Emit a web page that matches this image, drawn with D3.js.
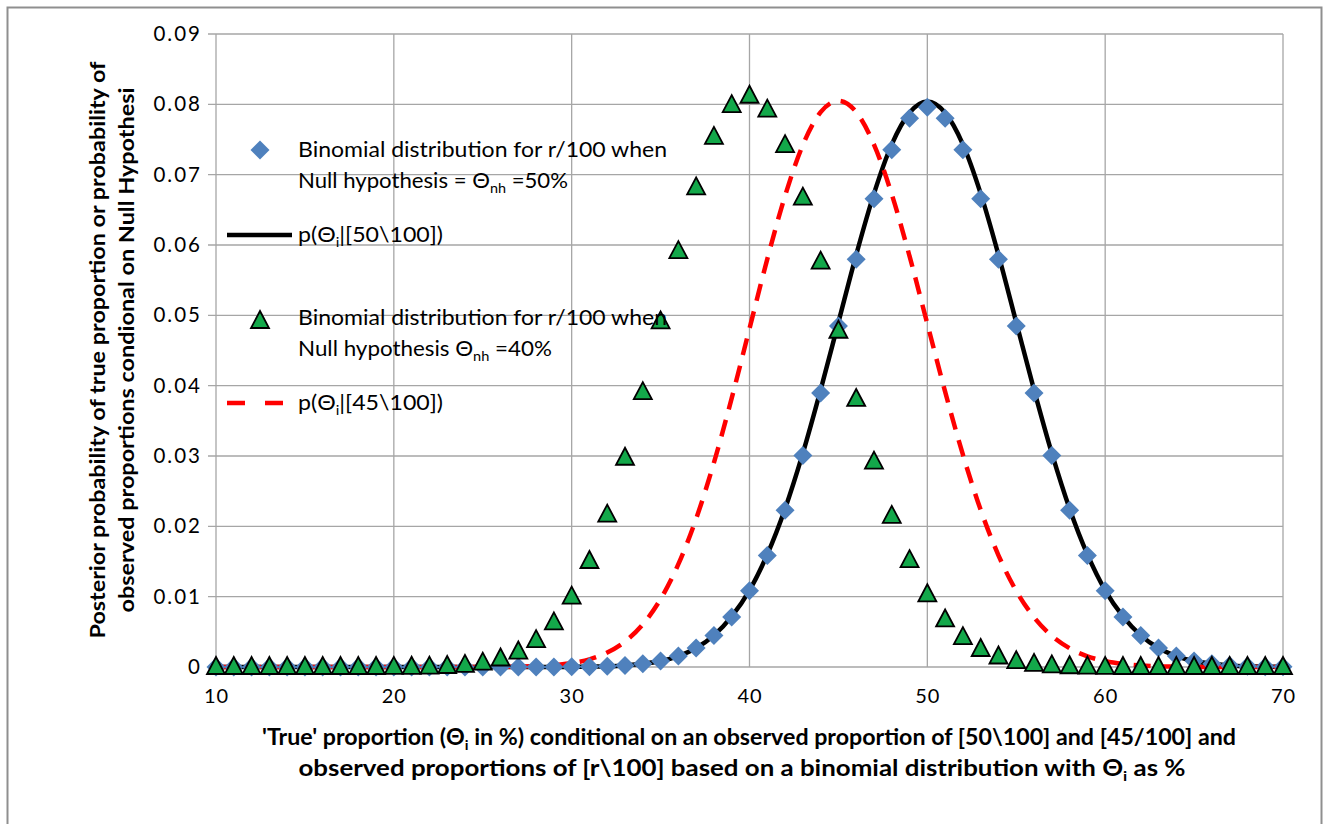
<!DOCTYPE html>
<html>
<head>
<meta charset="utf-8">
<script src="https://cdn.jsdelivr.net/npm/d3@7"></script>
<style>
  html, body { margin: 0; padding: 0; background: #fff; }
  svg { display: block; }
  text { font-family: Lato, "Open Sans", sans-serif; fill: #000; }
</style>
</head>
<body>
<svg id="chart" width="1327" height="824"></svg>
<script>
// ---------- DATA ----------
const theta = [10,11,12,13,14,15,16,17,18,19,20,21,22,23,24,25,26,27,28,29,30,31,32,33,34,35,36,37,38,39,40,
  41,42,43,44,45,46,47,48,49,50,51,52,53,54,55,56,57,58,59,60,61,62,63,64,65,66,67,68,69,70];

// Binomial distribution for r/100, null hypothesis 50% (blue diamonds)
const binom50 = [0,0,0,0,0,0,0,0,0,0,0,0,0,0,0,0,0,0,0,0,
  0.00002,0.00005,0.00011,0.00023,0.00046,0.00086,0.00156,0.00270,0.00447,0.00711,0.01084,
  0.01587,0.02229,0.03007,0.03895,0.04847,0.05796,0.06659,0.07353,0.07803,0.07959,
  0.07803,0.07353,0.06659,0.05796,0.04847,0.03895,0.03007,0.02229,0.01587,0.01084,
  0.00711,0.00447,0.00270,0.00156,0.00086,0.00046,0.00023,0.00011,0.00005,0.00002];

// p(theta | [50\100]) (black solid line)
const post50 = [0,0,0,0,0,0,0,0,0,0,0,0,0,0,0,0,0,0,0,0,
  0.00002,0.00005,0.00010,0.00022,0.00045,0.00085,0.00156,0.00270,0.00450,0.00720,0.01090,
  0.01600,0.02250,0.03040,0.03940,0.04900,0.05860,0.06730,0.07430,0.07880,0.08040,
  0.07880,0.07430,0.06730,0.05860,0.04900,0.03940,0.03040,0.02250,0.01600,0.01090,
  0.00720,0.00450,0.00270,0.00156,0.00085,0.00045,0.00022,0.00010,0.00005,0.00002];

// Binomial distribution for r/100, null hypothesis 40% (green triangles)
const binom40 = [0,0,0,0,0,0,0,0,0,0,
  0.00001,0.00003,0.00006,0.00014,0.00031,0.00063,0.00121,0.00220,0.00383,0.00634,0.01001,
  0.01507,0.02166,0.02975,0.03908,0.04913,0.05914,0.06820,0.07538,0.07989,0.08122,
  0.07924,0.07421,0.06673,0.05763,0.04781,0.03811,0.02919,0.02149,0.01520,0.01034,
  0.00676,0.00424,0.00256,0.00149,0.00083,0.00044,0.00023,0.00011,0.00005,0.00002,
  0,0,0,0,0,0,0,0,0,0];

// p(theta | [45\100]) (red dashed line)
const post45 = [0,0,0,0,0,0,0,0,0,0,0,0,0,0,0,
  0.00001,0.00002,0.00006,0.00013,0.00027,0.00055,0.00109,0.00205,0.00362,0.00606,0.00965,
  0.01462,0.02109,0.02905,0.03823,0.04812,0.05800,0.06700,0.07421,0.07889,0.08050,
  0.07890,0.07428,0.06720,0.05841,0.04879,0.03915,0.03018,0.02234,0.01588,0.01082,
  0.00707,0.00443,0.00266,0.00152,0.00083,0.00044,0.00022,0.00010,0.00005,0.00002,
  0,0,0,0,0];

const xTicks = [10,20,30,40,50,60,70];
const yTicks = [0,0.01,0.02,0.03,0.04,0.05,0.06,0.07,0.08,0.09];

// ---------- CHART ----------
const svg = d3.select("#chart");
const x = d3.scaleLinear().domain([10,70]).range([216,1283]);
const y = d3.scaleLinear().domain([0,0.09]).range([667,34]);

// outer frame
svg.append("rect").attr("x",7.5).attr("y",7.5).attr("width",1314).attr("height",840)
  .attr("fill","none").attr("stroke","#8f8f8f").attr("stroke-width",2);

// gridlines
const grid = svg.append("g").attr("stroke","#a6a6a6").attr("stroke-width",1.3);
grid.selectAll("line.h").data(yTicks).join("line")
  .attr("x1",208).attr("x2",x(70)).attr("y1",d=>y(d)).attr("y2",d=>y(d));
grid.selectAll("line.v").data(xTicks).join("line")
  .attr("y1",y(0.09)).attr("y2",y(0)).attr("x1",d=>x(d)).attr("x2",d=>x(d));

// axes labels via d3 axes
const yAxis = d3.axisLeft(y).tickValues(yTicks).tickSize(0).tickPadding(14)
  .tickFormat(d => d === 0 ? "0" : d3.format(".2f")(d));
const gy = svg.append("g").attr("transform",`translate(${x(10)},0)`).call(yAxis);
gy.select(".domain").remove();
gy.selectAll("text").attr("font-size",20.5).attr("font-family","Lato").attr("fill","#000")
  .attr("letter-spacing","2px");

const xAxis = d3.axisBottom(x).tickValues(xTicks).tickSize(0).tickPadding(22);
const gx = svg.append("g").attr("transform",`translate(0,${y(0)})`).call(xAxis);
gx.select(".domain").remove();
gx.selectAll("text").attr("font-size",20).attr("font-family","Lato").attr("fill","#000")
  .attr("letter-spacing","1px");

// lines
const line = d3.line().x((d,i)=>x(theta[i])).y(d=>y(d)).curve(d3.curveMonotoneX);
svg.append("path").datum(post50).attr("d",line).attr("fill","none")
  .attr("stroke","#000").attr("stroke-width",4.5);
svg.append("path").datum(post45).attr("d",line).attr("fill","none")
  .attr("stroke","#ff0000").attr("stroke-width",4.5).attr("stroke-dasharray","17,11");

// markers
const diamond = "M0,-9.5L9.5,0L0,9.5L-9.5,0Z";
const tri = "M0,-10L9,7L-9,7Z";
svg.append("g").selectAll("path").data(binom50).join("path")
  .attr("d",diamond).attr("fill","#4f81bd")
  .attr("transform",(d,i)=>`translate(${x(theta[i])},${y(d)})`);
svg.append("g").selectAll("path").data(binom40).join("path")
  .attr("d",tri).attr("fill","#13a84a").attr("stroke","#000").attr("stroke-width",1.8)
  .attr("stroke-linejoin","miter")
  .attr("transform",(d,i)=>`translate(${x(theta[i])},${y(d)})`);

// legend
const lg = svg.append("g").attr("font-size",21.5);
function thetaText(sel, xx, yy, parts, len) {
  const t = sel.append("text").attr("x",xx).attr("y",yy).attr("font-size",21.5)
    .attr("textLength",len).attr("lengthAdjust","spacingAndGlyphs");
  parts.forEach(p => {
    if (p.sub) t.append("tspan").attr("font-size",14).attr("dy",5).text(p.sub);
    else t.append("tspan").attr("dy", p.up ? -5 : 0).text(p.t);
  });
  return t;
}
lg.append("path").attr("d",diamond).attr("fill","#4f81bd").attr("transform","translate(260,150)");
thetaText(lg,298,157,[{t:"Binomial distribution for r/100 when"}],369);
thetaText(lg,298,188,[{t:"Null hypothesis = Θ"},{sub:"nh"},{t:" =50%",up:true}],270);

lg.append("line").attr("x1",227).attr("x2",292).attr("y1",235).attr("y2",235)
  .attr("stroke","#000").attr("stroke-width",4.5);
thetaText(lg,298,242,[{t:"p(Θ"},{sub:"i"},{t:"|[50\\100])",up:true}],145);

lg.append("path").attr("d",tri).attr("fill","#13a84a").attr("stroke","#000").attr("stroke-width",1.8)
  .attr("transform","translate(260,321)");
thetaText(lg,298,325,[{t:"Binomial distribution for r/100 when"}],369);
thetaText(lg,298,356,[{t:"Null hypothesis Θ"},{sub:"nh"},{t:" =40%",up:true}],254);

lg.append("line").attr("x1",227).attr("x2",292).attr("y1",403).attr("y2",403)
  .attr("stroke","#ff0000").attr("stroke-width",4.5).attr("stroke-dasharray","18,20");
thetaText(lg,298,410,[{t:"p(Θ"},{sub:"i"},{t:"|[45\\100])",up:true}],145);

// y-axis title
const yt = svg.append("g").attr("font-weight","bold").attr("font-size",21.5);
yt.append("text").attr("transform","translate(105,350) rotate(-90)").attr("text-anchor","middle")
  .attr("textLength",577).attr("lengthAdjust","spacingAndGlyphs")
  .text("Posterior probability of true proportion or probability of");
yt.append("text").attr("transform","translate(134,350) rotate(-90)").attr("text-anchor","middle")
  .attr("textLength",525).attr("lengthAdjust","spacingAndGlyphs")
  .text("observed proportions condional on Null Hypothesi");

// x-axis title
const xt = svg.append("g").attr("font-weight","bold").attr("font-size",22);
const l1 = xt.append("text").attr("x",749).attr("y",745).attr("text-anchor","middle")
  .attr("textLength",974).attr("lengthAdjust","spacingAndGlyphs");
l1.append("tspan").text("'True'  proportion (Θ");
l1.append("tspan").attr("font-size",14).attr("dy",5).text("i");
l1.append("tspan").attr("dy",-5).text(" in %) conditional on an observed proportion of [50\\100] and [45/100] and");
const l2 = xt.append("text").attr("x",742).attr("y",776).attr("text-anchor","middle")
  .attr("textLength",887).attr("lengthAdjust","spacingAndGlyphs");
l2.append("tspan").text("observed proportions of [r\\100] based on a binomial distribution with Θ");
l2.append("tspan").attr("font-size",14).attr("dy",5).text("i");
l2.append("tspan").attr("dy",-5).text("  as %");
</script>
</body>
</html>
